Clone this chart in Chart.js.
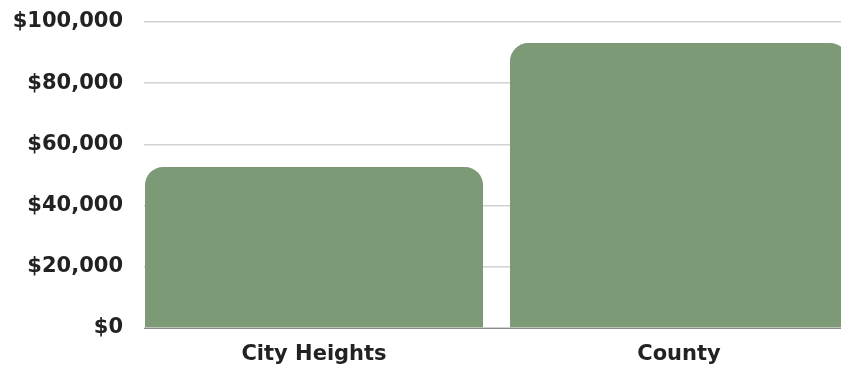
<html>
<head>
    <style>
        body { margin: 0; background: #fff; }
    </style>
</head>
<body>
    <canvas id="myChart" width="841" height="368"></canvas>
    <script src="https://cdn.jsdelivr.net/npm/chart.js"></script>
    <script>
        // data
        const categories = ['City Heights', 'County'];
        const income = [52600, 93100];
        const yTicks = [0, 20000, 40000, 60000, 80000, 100000];

        const chartCanvas = document.querySelector('#myChart');
        const tickFont = { family: 'DejaVu Sans', size: 21, weight: 'bold' };

        new Chart(chartCanvas, {
            type: 'bar',
            data: {
                // x as a linear scale so the bars can sit where they do in the picture
                datasets: [{
                    data: income.map((v, i) => ({ x: i, y: v })),
                    backgroundColor: '#7c9a76',
                    borderRadius: { topLeft: 18, topRight: 18, bottomLeft: 0, bottomRight: 0 },
                    borderSkipped: false,
                    categoryPercentage: 1,
                    barPercentage: 0.926
                }]
            },
            options: {
                responsive: false,
                animation: false,
                layout: { padding: { top: 22, right: 0, bottom: 0, left: 0 } },
                plugins: {
                    legend: { display: false },
                    tooltip: { enabled: false }
                },
                scales: {
                    x: {
                        type: 'linear',
                        offset: false,
                        min: -0.4658,
                        max: 1.4438,
                        grid: { display: false, drawTicks: false },
                        border: { display: true, color: '#8c8c8c', width: 1 },
                        ticks: {
                            stepSize: 1,
                            includeBounds: false,
                            autoSkip: false,
                            maxRotation: 0,
                            padding: 14,
                            color: '#222',
                            font: tickFont,
                            callback: v => categories[v] || ''
                        },
                        afterFit: scale => { scale.height = 40; }
                    },
                    y: {
                        min: 0,
                        max: 100000,
                        afterBuildTicks: scale => {
                            scale.ticks = yTicks.map(v => ({ value: v }));
                        },
                        // gap between labels and grid done with invisible tick marks
                        grid: { color: '#d2d2d2', lineWidth: 1.5, drawTicks: true, tickLength: 21, tickColor: 'rgba(0,0,0,0)' },
                        border: { display: false },
                        ticks: {
                            padding: 0,
                            color: '#222',
                            font: tickFont,
                            callback: v => '$' + v.toLocaleString('en-US')
                        },
                        afterFit: scale => { scale.width = 144; }
                    }
                }
            }
        });
    </script>
</body>
</html>
